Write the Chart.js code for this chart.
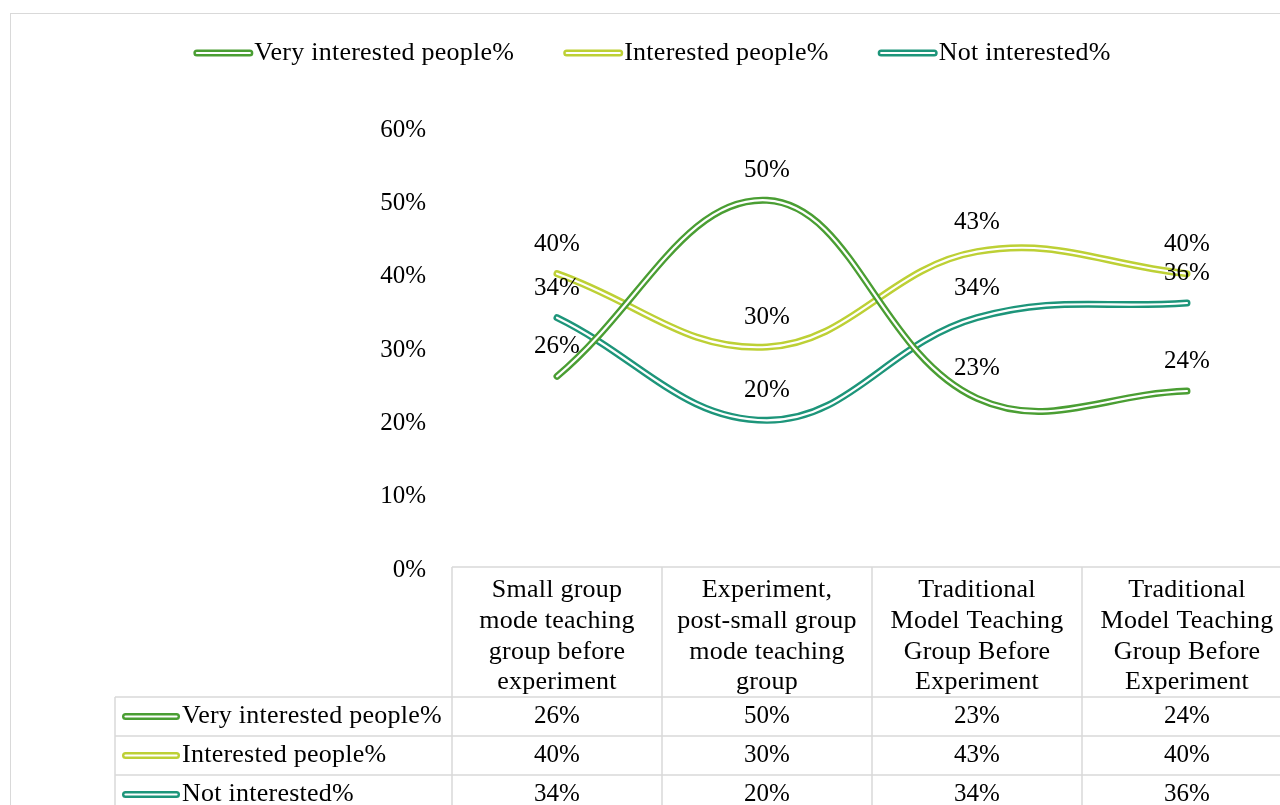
<!DOCTYPE html>
<html>
<head>
<meta charset="utf-8">
<script src="https://cdn.jsdelivr.net/npm/chart.js@4/dist/chart.umd.min.js"></script>
<style>
  html, body { margin: 0; padding: 0; background: #fff; overflow: hidden; }
  #wrap { position: relative; width: 1280px; height: 805px; overflow: hidden; }
  #frame { position: absolute; left: 10px; top: 13px; width: 1400px; height: 900px;
           border: 1.5px solid #d9d9d9; box-sizing: border-box; }
  #chart { position: absolute; left: 0; top: 0; }
</style>
</head>
<body>
<div id="wrap">
  <div id="frame"></div>
  <canvas id="chart" width="1310" height="805"></canvas>
</div>
<script>
// data
const categories = [
  ["Small group", "mode teaching", "group before", "experiment"],
  ["Experiment,", "post-small group", "mode teaching", "group"],
  ["Traditional", "Model Teaching", "Group Before", "Experiment"],
  ["Traditional", "Model Teaching", "Group Before", "Experiment"]
];
const seriesNames = ["Very interested people%", "Interested people%", "Not interested%"];
const veryInterested = [26, 50, 23, 24];
const interested = [40, 30, 43, 40];
const notInterested = [34, 20, 34, 36];
const yTicks = [0, 10, 20, 30, 40, 50, 60];
const colors = ["#4a9e33", "#bdd035", "#1d957a"];

const FAMILY = '"Liberation Serif", "Times New Roman", serif';
const FONT = '25px ' + FAMILY;        // numbers
const WORD_FONT = '26px ' + FAMILY;   // words run a little larger in the reference
const SPACING = '0.25px';
const GRID = '#d9d9d9';
const LINE_W = 7;
const CORE_W = 2.2;

// coloured line with a white core, like the Excel compound line
function doubleLine(ctx, x1, y, x2, color) {
  ctx.save();
  ctx.lineCap = 'round';
  ctx.beginPath();
  ctx.moveTo(x1, y);
  ctx.lineTo(x2, y);
  ctx.strokeStyle = color;
  ctx.lineWidth = LINE_W;
  ctx.stroke();
  ctx.strokeStyle = '#fff';
  ctx.lineWidth = CORE_W;
  ctx.stroke();
  ctx.restore();
}

const whiteCore = {
  id: 'whiteCore',
  afterDatasetDraw(chart, args) {
    const pts = args.meta.data;
    const ctx = chart.ctx;
    ctx.save();
    ctx.beginPath();
    ctx.moveTo(pts[0].x, pts[0].y);
    for (let i = 1; i < pts.length; i++) {
      const a = pts[i - 1], b = pts[i];
      ctx.bezierCurveTo(a.cp2x, a.cp2y, b.cp1x, b.cp1y, b.x, b.y);
    }
    ctx.lineWidth = CORE_W;
    ctx.strokeStyle = '#fff';
    ctx.lineCap = 'round';
    ctx.lineJoin = 'round';
    ctx.stroke();
    ctx.restore();
  }
};

// letter spacing only for the category labels of the x axis
const spacedTicks = {
  id: 'spacedTicks',
  beforeDraw(chart) {
    const xs = chart.scales.x;
    if (xs._spaced) return;
    const orig = xs.drawLabels;
    xs.drawLabels = function (area) {
      this.ctx.save();
      this.ctx.letterSpacing = SPACING;
      orig.call(this, area);
      this.ctx.restore();
    };
    xs._spaced = true;
  }
};

const valueLabels = {
  id: 'valueLabels',
  afterDatasetsDraw(chart) {
    const ctx = chart.ctx;
    ctx.save();
    ctx.font = FONT;
    ctx.fillStyle = '#000';
    ctx.textAlign = 'center';
    ctx.textBaseline = 'middle';
    chart.data.datasets.forEach((ds, i) => {
      chart.getDatasetMeta(i).data.forEach((p, j) => {
        ctx.fillText(ds.data[j] + '%', p.x, p.y - 29.5);
      });
    });
    ctx.restore();
  }
};

const legendAndTable = {
  id: 'legendAndTable',
  afterDraw(chart) {
    const ctx = chart.ctx;
    const ca = chart.chartArea;
    const xs = chart.scales.x;
    const ds = chart.data.datasets;
    ctx.save();
    ctx.fillStyle = '#000';
    ctx.textBaseline = 'middle';

    // legend on top
    ctx.font = WORD_FONT;
    ctx.letterSpacing = SPACING;
    const widths = ds.map(d => ctx.measureText(d.label).width);
    const total = widths.reduce((s, w) => s + w + 61, 0) + 49 * (ds.length - 1);
    let x = 652 - total / 2;
    ds.forEach((d, i) => {
      doubleLine(ctx, x + 3.5, 53, x + 56.5, d.borderColor);
      ctx.textAlign = 'left';
      ctx.fillText(d.label, x + 61, 53);
      x += 61 + widths[i] + 49;
    });

    // data table
    const n = chart.data.labels.length;
    const edges = [];
    for (let i = 0; i <= n; i++) edges.push(xs.getPixelForValue(i - 0.5));
    const rowTop = ca.bottom + 130;
    const rowH = 39;
    const tableLeft = 115;
    const bottom = chart.height;

    ctx.strokeStyle = GRID;
    ctx.lineWidth = 1.5;
    ctx.beginPath();
    ctx.moveTo(edges[0], ca.bottom);
    ctx.lineTo(edges[n], ca.bottom);
    edges.forEach(e => { ctx.moveTo(e, ca.bottom); ctx.lineTo(e, bottom); });
    ctx.moveTo(tableLeft, rowTop);
    ctx.lineTo(tableLeft, bottom);
    for (let r = 0; r < ds.length; r++) {
      ctx.moveTo(tableLeft, rowTop + r * rowH);
      ctx.lineTo(edges[n], rowTop + r * rowH);
    }
    ctx.stroke();

    ds.forEach((d, r) => {
      const cy = rowTop + r * rowH + rowH / 2;
      doubleLine(ctx, 125.5, cy, 176.5, d.borderColor);
      ctx.textAlign = 'left';
      ctx.font = WORD_FONT;
      ctx.letterSpacing = SPACING;
      ctx.fillText(d.label, 182, cy);
      ctx.textAlign = 'center';
      ctx.font = FONT;
      ctx.letterSpacing = '0px';
      d.data.forEach((v, j) => ctx.fillText(v + '%', xs.getPixelForValue(j), cy));
    });
    ctx.restore();
  }
};

const seriesValues = [veryInterested, interested, notInterested];

new Chart(document.getElementById('chart'), {
  type: 'line',
  data: {
    labels: categories,
    datasets: seriesNames.map((name, i) => ({
      label: name,
      data: seriesValues[i],
      borderColor: colors[i],
      backgroundColor: colors[i],
      borderWidth: LINE_W,
      borderCapStyle: 'round',
      borderJoinStyle: 'round',
      tension: 0.4,
      pointRadius: 0,
      fill: false
    }))
  },
  options: {
    responsive: false,
    animation: false,
    layout: { padding: { top: 127, right: 18, bottom: 108, left: 0 } },
    plugins: {
      legend: { display: false },
      tooltip: { enabled: false }
    },
    scales: {
      x: {
        offset: true,
        grid: { display: false, drawTicks: false },
        border: { display: false },
        ticks: {
          color: '#000',
          font: { family: FAMILY, size: 26, lineHeight: 1.18 },
          padding: 8,
          autoSkip: false,
          maxRotation: 0,
          minRotation: 0
        },
        afterFit(s) { s.height = 130; }
      },
      y: {
        min: 0,
        max: 60,
        grid: { display: false, drawTicks: false },
        border: { display: false },
        ticks: {
          color: '#000',
          font: { family: FAMILY, size: 25 },
          padding: 26,
          labelOffset: 3,
          callback: v => v + '%'
        },
        afterBuildTicks(s) { s.ticks = yTicks.map(v => ({ value: v })); },
        afterFit(s) { s.width = 452; }
      }
    }
  },
  plugins: [spacedTicks, whiteCore, valueLabels, legendAndTable]
});
</script>
</body>
</html>
